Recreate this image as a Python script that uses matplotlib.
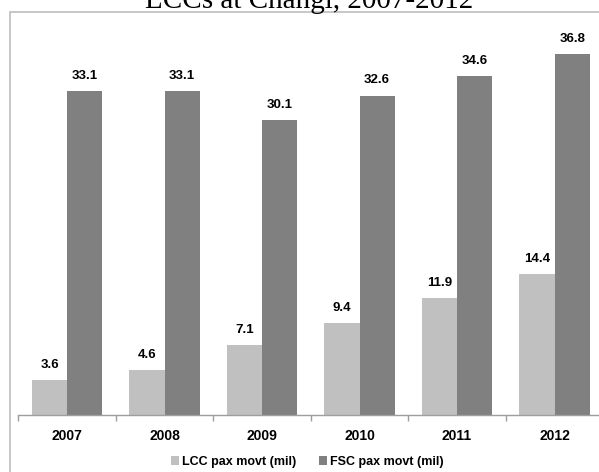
import matplotlib
matplotlib.use("Agg")
import matplotlib.pyplot as plt
from matplotlib.patches import Rectangle, Patch
import numpy as np

years = ["2007", "2008", "2009", "2010", "2011", "2012"]
lcc_pax = [3.6, 4.6, 7.1, 9.4, 11.9, 14.4]
fsc_pax = [33.1, 33.1, 30.1, 32.6, 34.6, 36.8]
lcc_label = "LCC pax movt (mil)"
fsc_label = "FSC pax movt (mil)"
title = "LCCs at Changi, 2007-2012"

W, H = 599, 472
fig = plt.figure(figsize=(W / 100, H / 100), dpi=100)

# chart frame (only left and top edges fall inside the canvas)
frame = Rectangle((10 / W, -0.1), 1.2, (H - 11.7) / H + 0.1,
                  transform=fig.transFigure, fill=False,
                  edgecolor="#BDBDBD", linewidth=1.2)
fig.patches.append(frame)

fig.text(309 / W, 1 - 7.5 / H, title, ha="center", va="baseline",
         family="Liberation Serif", fontsize=21)

left_px, right_px = 18.3, 18.3 + 6 * 97.5
bottom_px, top_px = 415, 13
ax = fig.add_axes([left_px / W, (H - bottom_px) / H,
                   (right_px - left_px) / W, (bottom_px - top_px) / H])
ax.set_xlim(-0.5, 5.5)
ax.set_ylim(0, (bottom_px - top_px) / 9.8)

x = np.arange(len(years))
bw = 0.36
bars_l = ax.bar(x - bw / 2, lcc_pax, bw, color="#C0C0C0", label=lcc_label)
bars_f = ax.bar(x + bw / 2, fsc_pax, bw, color="#808080", label=fsc_label)

val_font = dict(family="Liberation Sans", fontweight="bold", fontsize=9.5)
for bars, vals in ((bars_l, lcc_pax), (bars_f, fsc_pax)):
    for b, v in zip(bars, vals):
        ax.annotate(f"{v:.1f}", (b.get_x() + b.get_width() / 2, v),
                    xytext=(0, 6.5), textcoords="offset points",
                    ha="center", va="bottom", **val_font)

for s in ("top", "right", "left"):
    ax.spines[s].set_visible(False)
ax.spines["bottom"].set_color("#9E9E9E")
ax.spines["bottom"].set_linewidth(1.0)
ax.set_yticks([])
ax.set_xticks(x)
ax.set_xticklabels(years, family="Liberation Sans", fontweight="bold", fontsize=10)
ax.tick_params(axis="x", which="major", length=0, pad=10)
ax.set_xticks(np.arange(-0.5, 6.0, 1.0), minor=True)
ax.tick_params(axis="x", which="minor", length=4, color="#9E9E9E", width=1.0)

handles = [Patch(facecolor="#C0C0C0", label=lcc_label),
           Patch(facecolor="#808080", label=fsc_label)]
fig.legend(handles=handles, loc="center", bbox_to_anchor=(307 / W, 1 - 461.5 / H),
           ncol=2, frameon=False, handlelength=0.7, handleheight=0.7,
           handletextpad=0.2, columnspacing=1.8,
           prop=dict(family="Liberation Sans", weight="bold", size=9))

fig.savefig("out.png", dpi=100)
